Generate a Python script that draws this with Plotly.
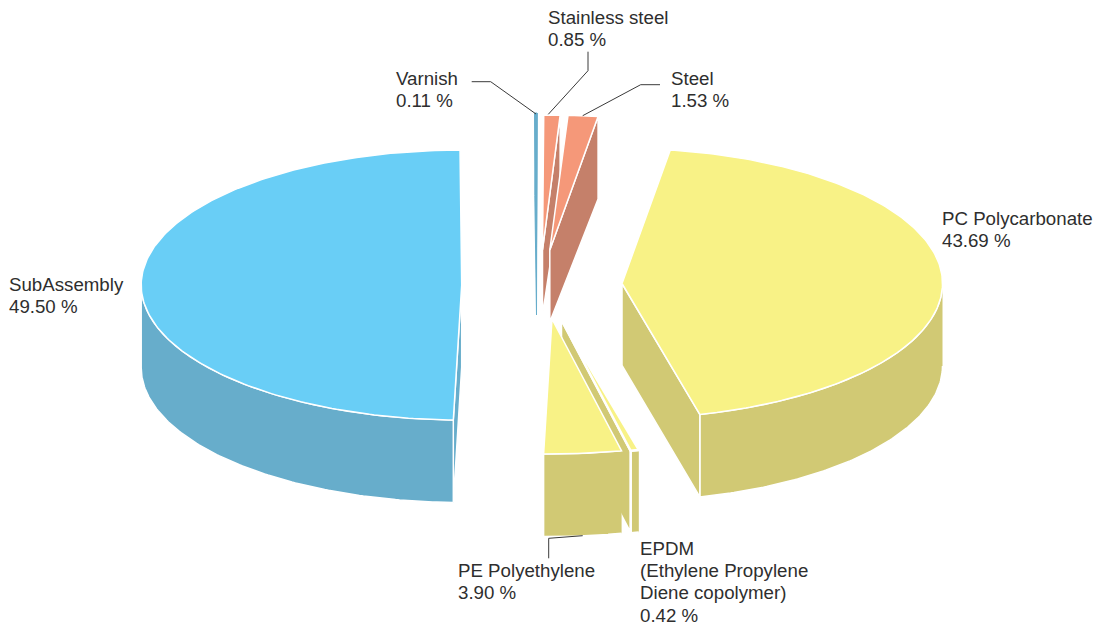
import numpy as np
import plotly.graph_objects as go

# ---- data (clockwise from the top of the pie) ----
categories = ["Varnish", "Stainless steel", "Steel", "PC Polycarbonate",
              "EPDM", "PE Polyethylene", "SubAssembly"]
values = [0.11, 0.85, 1.53, 43.69, 0.42, 3.90, 49.50]
label_names = [["Varnish"], ["Stainless steel"], ["Steel"], ["PC Polycarbonate"],
               ["EPDM", "(Ethylene Propylene", "Diene copolymer)"],
               ["PE Polyethylene"], ["SubAssembly"]]

# ---- styling / layout ----
START_ANGLE = -0.3
RX, RY, DEPTH = 320.5, 135.0, 82.5
BLUE = ("#69CEF6", "#67ADCB")
YELLOW = ("#F8F286", "#D1C974")
SALMON = ("#F59879", "#C5806A")
colours = {"Varnish": ("#67ADCB", "#67ADCB"), "Stainless steel": SALMON, "Steel": SALMON,
           "PC Polycarbonate": YELLOW, "EPDM": YELLOW,
           "PE Polyethylene": YELLOW, "SubAssembly": BLUE}
# exploded apex position on screen, and how far the cut faces reach down at the apex
apex = {"Varnish": (536.5, 248, 67), "Stainless steel": (542.5, 250, 65), "Steel": (549.8, 250, 72),
        "PC Polycarbonate": (622, 283.5, 82), "EPDM": (561, 319, 82),
        "PE Polyethylene": (552, 319, 82), "SubAssembly": (461.7, 285, 82)}
draw_order = ["Varnish", "Stainless steel", "Steel", "SubAssembly",
              "PC Polycarbonate", "EPDM", "PE Polyethylene"]
outline = {"Varnish": ("#67ADCB", 1.0), "EPDM": ("white", 2.5)}
# left edge and centre of the first text line
label_pos = {"Varnish": (396, 78), "Stainless steel": (548, 17), "Steel": (671, 78),
             "PC Polycarbonate": (942, 218), "SubAssembly": (9, 284),
             "PE Polyethylene": (458, 570), "EPDM": (640, 548)}
LINE_STEP = 22.4
leaders = [[(471.7, 81.7), (490.7, 81.7), (536, 114)],
           [(588, 51.7), (588, 70.7), (548.3, 114.3)],
           [(660, 84.7), (640.7, 84.7), (582.7, 115.7)],
           [(548.7, 558.3), (548.7, 538.3), (582.7, 535.7)]]

# angular spans derived from the values
spans = {}
a = START_ANGLE
for c, v in zip(categories, values):
    spans[c] = (a, a + v / sum(values) * 360)
    a = spans[c][1]

fig = go.Figure()


def poly(xs, ys, fill, line="white", width=1.5):
    fig.add_trace(go.Scatter(x=list(xs), y=list(ys), mode="lines", fill="toself",
                             fillcolor=fill, line=dict(color=line, width=width),
                             hoverinfo="skip", showlegend=False))


for name in draw_order:
    t0, t1 = spans[name]
    ax, ay, inner = apex[name]
    top, side = colours[name]
    line, width = outline.get(name, ("white", 1.5))

    def px(t):
        return ax + RX * np.sin(np.radians(t))

    def py(t):
        return ay - RY * np.cos(np.radians(t))

    # outer wall: only the front half of the rim is visible
    w0, w1 = max(t0, 90), min(t1, 270)
    if w1 > w0:
        t = np.linspace(w0, w1, 120)
        poly(np.r_[px(t), px(t[::-1])], np.r_[py(t), py(t[::-1]) + DEPTH], side, line, width)
    # cut faces, when they turn towards the viewer
    if np.sin(np.radians(t1)) > 0:
        poly([ax, px(t1), px(t1), ax, ax], [ay, py(t1), py(t1) + DEPTH, ay + inner, ay], side, line, width)
    if np.sin(np.radians(t0)) < 0:
        poly([ax, px(t0), px(t0), ax, ax], [ay, py(t0), py(t0) + DEPTH, ay + inner, ay], side, line, width)
    # top face
    t = np.linspace(t0, t1, 200)
    poly(np.r_[ax, px(t), ax], np.r_[ay, py(t), ay], top, line, width)

for pts in leaders:
    fig.add_trace(go.Scatter(x=[p[0] for p in pts], y=[p[1] for p in pts], mode="lines",
                             line=dict(color="#3a3a3a", width=1), hoverinfo="skip", showlegend=False))

for c, v, lab in zip(categories, values, label_names):
    x, y = label_pos[c]
    for i, text in enumerate(lab + [f"{v:.2f} %"]):
        fig.add_annotation(x=x, y=y + i * LINE_STEP, text=text, showarrow=False, xanchor="left",
                           yanchor="middle", align="left", borderpad=0, borderwidth=0,
                           font=dict(family="Liberation Sans", size=18.7, color="#2e2e2e"))

fig.update_layout(width=1096, height=623, margin=dict(l=0, r=0, t=0, b=0),
                  paper_bgcolor="white", plot_bgcolor="white", showlegend=False,
                  xaxis=dict(range=[0, 1096], visible=False, fixedrange=True),
                  yaxis=dict(range=[623, 0], visible=False, fixedrange=True))
fig.write_html("out.html", config={"displayModeBar": False},
               post_script="document.body.style.margin='0';document.body.style.overflow='hidden';")
